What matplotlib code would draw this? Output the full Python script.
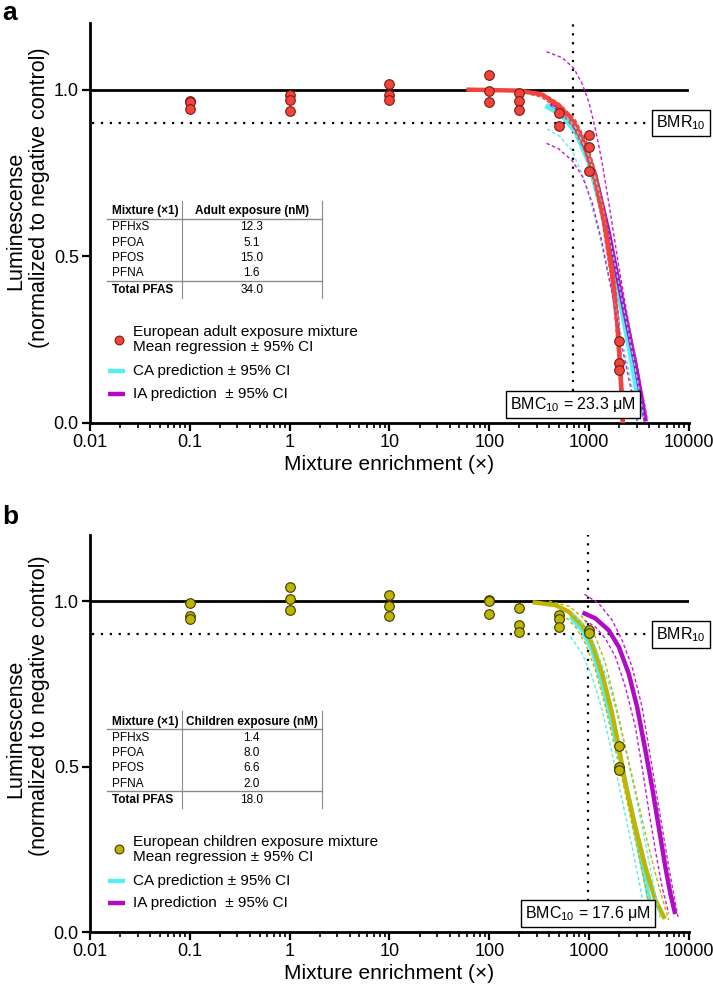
import numpy as np
import matplotlib
matplotlib.use("Agg")
import matplotlib.pyplot as plt
from matplotlib.ticker import LogLocator, NullFormatter

plt.rcParams['font.family'] = ['Liberation Sans', 'DejaVu Sans']
plt.rcParams['mathtext.fontset'] = 'custom'
plt.rcParams['mathtext.rm'] = 'Liberation Sans'
plt.rcParams['mathtext.it'] = 'Liberation Sans:italic'

# ---- panel a: adult mixture ----
a_dose = [0.1, 0.1, 0.1, 1, 1, 1, 10, 10, 10, 100, 100, 100, 200, 200, 200,
          500, 500, 1000, 1000, 1000, 2000, 2000, 2000]
a_resp = [0.967, 0.962, 0.943, 0.985, 0.970, 0.936, 1.018, 0.985, 0.970,
          1.043, 0.997, 0.963, 0.991, 0.965, 0.940, 0.931, 0.892,
          0.864, 0.828, 0.756, 0.247, 0.180, 0.159]

a_mean_x = [62, 201, 339, 505, 703, 918, 1156, 1403, 1698, 1905, 2056, 2173]
a_mean_y = [1.0, 0.997, 0.985, 0.951, 0.902, 0.832, 0.731, 0.610, 0.449, 0.308, 0.157, 0.006]
a_mean_hi_x = [100, 200, 340, 505, 720, 940, 1190, 1450, 1760, 1980, 2130, 2250]
a_mean_hi_y = [1.0, 0.999, 0.99, 0.958, 0.912, 0.845, 0.745, 0.625, 0.46, 0.315, 0.16, 0.005]
a_mean_lo_x = [100, 200, 330, 490, 680, 890, 1120, 1360, 1640, 1840, 1990, 2100]
a_mean_lo_y = [1.0, 0.994, 0.978, 0.942, 0.89, 0.82, 0.72, 0.6, 0.44, 0.3, 0.155, 0.005]

a_ca_x = [380, 537, 730, 993, 1349, 1834, 2494, 3020, 3334]
a_ca_y = [0.948, 0.922, 0.872, 0.781, 0.630, 0.429, 0.228, 0.087, 0.026]
a_ca_hi_x = [380, 537, 730, 993, 1349, 1834, 2494, 3139, 3524]
a_ca_hi_y = [0.958, 0.933, 0.887, 0.802, 0.661, 0.469, 0.268, 0.107, 0.016]
a_ca_lo_x = [380, 497, 676, 918, 1250, 1698, 2307, 2904, 3090]
a_ca_lo_y = [0.882, 0.862, 0.817, 0.721, 0.570, 0.389, 0.207, 0.057, 0.006]

a_ia_x = [427, 626, 851, 1156, 1573, 2138, 2904, 3656]
a_ia_y = [0.955, 0.922, 0.852, 0.741, 0.570, 0.369, 0.177, 0.011]
a_ia_hi_x = [374, 537, 703, 851, 993, 1156, 1349, 1634, 1982, 2494, 3139, 3802]
a_ia_hi_y = [1.114, 1.096, 1.064, 1.018, 0.963, 0.882, 0.781, 0.630, 0.469, 0.298, 0.147, 0.016]
a_ia_lo_x = [374, 497, 676, 851, 1072, 1349, 1698, 2138, 2692, 3020]
a_ia_lo_y = [0.839, 0.822, 0.787, 0.741, 0.661, 0.540, 0.389, 0.228, 0.087, 0.006]

a_bmc = 685
a_table = [("PFHxS", "12.3"), ("PFOA", "5.1"), ("PFOS", "15.0"), ("PFNA", "1.6")]
a_total = "34.0"

# ---- panel b: children mixture ----
b_dose = [0.1, 0.1, 0.1, 1, 1, 1, 10, 10, 10, 100, 100, 100, 200, 200, 200,
          500, 500, 500, 1000, 1000, 2000, 2000, 2000]
b_resp = [0.995, 0.955, 0.947, 1.043, 1.008, 0.974, 1.018, 0.986, 0.954,
          1.003, 1.0, 0.960, 0.980, 0.927, 0.907, 0.958, 0.946, 0.923,
          0.912, 0.904, 0.563, 0.499, 0.489]

b_mean_x = [286, 461, 626, 851, 1072, 1349, 1698, 1982, 2307, 2904, 3656, 4603, 5585]
b_mean_y = [0.996, 0.988, 0.968, 0.928, 0.872, 0.781, 0.661, 0.560, 0.449, 0.318, 0.197, 0.097, 0.046]
b_mean_hi_x = [395, 626, 851, 1156, 1456, 1834, 2307, 2904, 3656, 4603, 5585, 6266]
b_mean_hi_y = [1.0, 0.985, 0.953, 0.892, 0.812, 0.691, 0.560, 0.429, 0.298, 0.177, 0.087, 0.036]
b_mean_lo_x = [537, 730, 918, 1156, 1456, 1834, 2307, 2904, 3656, 4266]
b_mean_lo_y = [0.963, 0.922, 0.872, 0.791, 0.681, 0.550, 0.419, 0.278, 0.137, 0.036]

b_ca_x = [676, 851, 1072, 1349, 1698, 2138, 2692, 3388, 3952, 4335]
b_ca_y = [0.948, 0.912, 0.852, 0.751, 0.630, 0.499, 0.358, 0.207, 0.107, 0.046]
b_ca_hi_x = [676, 851, 1156, 1573, 1982, 2494, 3139, 3952, 4786, 5164]
b_ca_hi_y = [0.963, 0.932, 0.862, 0.751, 0.640, 0.509, 0.369, 0.217, 0.087, 0.036]
b_ca_lo_x = [651, 851, 1072, 1349, 1698, 2138, 2692, 3388, 3802]
b_ca_lo_y = [0.892, 0.842, 0.771, 0.671, 0.540, 0.399, 0.258, 0.107, 0.036]

b_ia_x = [898, 1156, 1573, 1982, 2494, 3020, 3656, 4266, 4977, 5798, 6503, 7194]
b_ia_y = [0.963, 0.948, 0.912, 0.862, 0.781, 0.681, 0.550, 0.439, 0.318, 0.197, 0.117, 0.061]
b_ia_hi_x = [898, 1250, 1698, 2138, 2692, 3388, 3952, 4603, 5370, 6266, 7300, 7762]
b_ia_hi_y = [1.021, 0.993, 0.943, 0.882, 0.802, 0.681, 0.560, 0.439, 0.318, 0.197, 0.087, 0.046]
b_ia_lo_x = [898, 1156, 1456, 1834, 2307, 2904, 3388, 3952, 4603, 5370, 6266]
b_ia_lo_y = [0.943, 0.922, 0.887, 0.832, 0.741, 0.620, 0.499, 0.369, 0.248, 0.137, 0.056]

b_bmc = 978
b_table = [("PFHxS", "1.4"), ("PFOA", "8.0"), ("PFOS", "6.6"), ("PFNA", "2.0")]
b_total = "18.0"

x_ticks = [0.01, 0.1, 1, 10, 100, 1000, 10000]
x_tick_labels = ["0.01", "0.1", "1", "10", "100", "1000", "10000"]
y_ticks = [0.0, 0.5, 1.0]

RED = '#F2443B'
CYAN = '#55EEF2'
PURPLE = '#B00CC4'
MAGENTA = '#C818D8'
OLIVE = '#BDB500'


def draw_panel(ax, dose, resp, mean, mean_hi, mean_lo, ca, ca_hi, ca_lo,
               ia, ia_hi, ia_lo, main_color, dot_edge, bmc, bmc_text,
               table, total, table_head, legend_text):
    ax.set_xscale('log')
    ax.set_xlim(0.01, 10000)
    ax.set_ylim(0, 1.2)

    ax.axhline(1.0, color='black', lw=2, zorder=2)
    ax.plot([0.0105, 6700], [0.9, 0.9], color='black', lw=1.6,
            ls=(0, (1, 3)), zorder=2)
    ax.plot([bmc, bmc], [0.095, 1.2], color='black', lw=1.6,
            ls=(0, (1, 3)), zorder=2)

    lw_thick = 3.2
    ax.plot(ca[0], ca[1], color=CYAN, lw=lw_thick, zorder=3)
    ax.plot(ia[0], ia[1], color=PURPLE, lw=lw_thick, zorder=3)
    ax.plot(mean[0], mean[1], color=main_color, lw=lw_thick, zorder=4)
    dash = (0, (2.5, 1.8))
    for xs, ys, c in [(ca_hi[0], ca_hi[1], CYAN), (ca_lo[0], ca_lo[1], CYAN),
                      (ia_hi[0], ia_hi[1], MAGENTA), (ia_lo[0], ia_lo[1], MAGENTA),
                      (mean_hi[0], mean_hi[1], main_color),
                      (mean_lo[0], mean_lo[1], main_color)]:
        ax.plot(xs, ys, color=c, lw=1.0, ls=dash, zorder=5)

    ax.scatter(dose, resp, s=48, color=main_color, edgecolor=dot_edge,
               linewidth=0.8, zorder=6, clip_on=False)

    ax.text(0.987, 0.9, "BMR$_{10}$", transform=ax.get_yaxis_transform(),
            ha='center', va='center', fontsize=11.5, clip_on=False, zorder=7,
            bbox=dict(boxstyle='square,pad=0.25', fc='white', ec='black', lw=1))
    ax.text(bmc, 0.056, bmc_text, ha='center', va='center', fontsize=11.5,
            zorder=7,
            bbox=dict(boxstyle='square,pad=0.25', fc='white', ec='black', lw=1))

    # exposure table
    tr = ax.transAxes
    gray = '#8a8a8a'
    fs = 8.5
    ax.text(0.037, 0.529, "Mixture (×1)", transform=tr, fontsize=fs,
            fontweight='bold', va='center', ha='left')
    ax.text(0.27, 0.529, table_head, transform=tr, fontsize=fs,
            fontweight='bold', va='center', ha='center')
    row_y = [0.489, 0.451, 0.413, 0.374]
    for (name, val), yy in zip(table, row_y):
        ax.text(0.037, yy, name, transform=tr, fontsize=fs, va='center', ha='left')
        ax.text(0.27, yy, val, transform=tr, fontsize=fs, va='center', ha='center')
    ax.text(0.037, 0.333, "Total PFAS", transform=tr, fontsize=fs,
            fontweight='bold', va='center', ha='left')
    ax.text(0.27, 0.333, total, transform=tr, fontsize=fs, va='center', ha='center')
    for yy in [0.511, 0.355]:
        ax.plot([0.028, 0.388], [yy, yy], transform=tr, color=gray, lw=1.0)
    for xx in [0.153, 0.388]:
        ax.plot([xx, xx], [0.313, 0.556], transform=tr, color=gray, lw=0.8)

    # legend
    ax.scatter([0.048], [0.208], transform=tr, s=40, color=main_color,
               edgecolor=dot_edge, linewidth=0.8, clip_on=False)
    ax.text(0.072, 0.227, legend_text, transform=tr, fontsize=11, va='center')
    ax.text(0.072, 0.189, "Mean regression ± 95% CI", transform=tr,
            fontsize=11, va='center')
    ax.plot([0.030, 0.058], [0.129, 0.129], transform=tr, color=CYAN, lw=3.2,
            solid_capstyle='butt')
    ax.text(0.072, 0.129, "CA prediction ± 95% CI", transform=tr,
            fontsize=11, va='center')
    ax.plot([0.030, 0.058], [0.073, 0.073], transform=tr, color=PURPLE, lw=3.2,
            solid_capstyle='butt')
    ax.text(0.072, 0.073, "IA prediction  ± 95% CI", transform=tr,
            fontsize=11, va='center')

    # axes styling
    for s in ['top', 'right']:
        ax.spines[s].set_visible(False)
    for s in ['left', 'bottom']:
        ax.spines[s].set_linewidth(2)
    ax.set_xticks(x_ticks)
    ax.set_xticklabels(x_tick_labels)
    ax.xaxis.set_minor_locator(LogLocator(base=10, subs=np.arange(2, 10), numticks=20))
    ax.xaxis.set_minor_formatter(NullFormatter())
    ax.set_yticks(y_ticks)
    ax.set_yticklabels(["0.0", "0.5", "1.0"])
    ax.tick_params(axis='both', which='major', length=6, width=1.6,
                   labelsize=13, pad=2)
    ax.tick_params(axis='x', which='minor', length=3.5, width=1.2)
    ax.set_xlabel("Mixture enrichment (×)", fontsize=15, labelpad=3)


fig = plt.figure(figsize=(7.13, 9.91), dpi=100)
ax_a = fig.add_axes([0.1262, 0.5732, 0.8401, 0.4036])
ax_b = fig.add_axes([0.1262, 0.0595, 0.8401, 0.4006])

draw_panel(ax_a, a_dose, a_resp, (a_mean_x, a_mean_y), (a_mean_hi_x, a_mean_hi_y),
           (a_mean_lo_x, a_mean_lo_y), (a_ca_x, a_ca_y), (a_ca_hi_x, a_ca_hi_y),
           (a_ca_lo_x, a_ca_lo_y), (a_ia_x, a_ia_y), (a_ia_hi_x, a_ia_hi_y),
           (a_ia_lo_x, a_ia_lo_y), RED, '#7a1a14', a_bmc, "BMC$_{10}$ = 23.3 μM",
           a_table, a_total, "Adult exposure (nM)",
           "European adult exposure mixture")
draw_panel(ax_b, b_dose, b_resp, (b_mean_x, b_mean_y), (b_mean_hi_x, b_mean_hi_y),
           (b_mean_lo_x, b_mean_lo_y), (b_ca_x, b_ca_y), (b_ca_hi_x, b_ca_hi_y),
           (b_ca_lo_x, b_ca_lo_y), (b_ia_x, b_ia_y), (b_ia_hi_x, b_ia_hi_y),
           (b_ia_lo_x, b_ia_lo_y), OLIVE, '#3d3a00', b_bmc, "BMC$_{10}$ = 17.6 μM",
           b_table, b_total, "Children exposure (nM)",
           "European children exposure mixture")

for ax, y1, y2 in [(ax_a, 0.506, 0.564), (ax_b, 0.511, 0.569)]:
    ax.text(-0.1235, y1, "Luminescense", transform=ax.transAxes, rotation=90,
            ha='center', va='center', fontsize=15.5)
    ax.text(-0.085, y2, "(normalized to negative control)", transform=ax.transAxes,
            rotation=90, ha='center', va='center', fontsize=15.5)

fig.text(0.003, 0.999, "a", fontsize=19, fontweight='bold', va='top', ha='left')
fig.text(0.003, 0.478, "b", fontsize=19, fontweight='bold', va='center', ha='left')

fig.savefig("out.png", dpi=100)
